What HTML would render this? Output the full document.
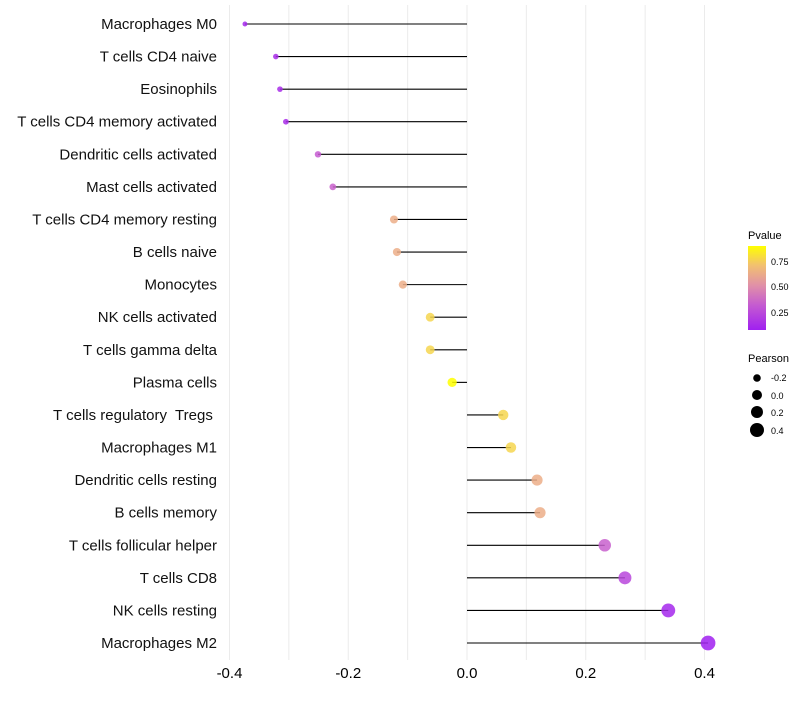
<!DOCTYPE html>
<html><head><meta charset="utf-8"><style>
body{margin:0;background:#fff;font-family:"Liberation Sans",sans-serif}
text{white-space:pre}
</style></head><body>
<svg id="c" width="800" height="700" xmlns="http://www.w3.org/2000/svg" font-family="Liberation Sans, sans-serif">
<defs><linearGradient id="pg" x1="0" y1="1" x2="0" y2="0">
<stop offset="0" stop-color="#A020F0"/><stop offset="0.3" stop-color="#C55CD0"/><stop offset="0.53" stop-color="#E090A8"/><stop offset="0.77" stop-color="#F2C070"/><stop offset="1" stop-color="#FFFF00"/></linearGradient></defs>
<g id="grid"></g>
<g id="marks"></g>
<g id="ylab"></g>
<g id="xlab"></g>
<g>
<text x="748" y="239" font-size="11">Pvalue</text>
<rect x="748" y="246" width="18" height="84" fill="url(#pg)"/>
<text x="771" y="265" font-size="9">0.75</text>
<text x="771" y="290" font-size="9">0.50</text>
<text x="771" y="316" font-size="9">0.25</text>
</g>
<g>
<text x="748" y="362" font-size="11">Pearson</text>
<circle cx="757" cy="378" r="3.8"/>
<text x="771" y="381" font-size="9">-0.2</text>
<circle cx="757" cy="395" r="5"/>
<text x="771" y="399" font-size="9">0.0</text>
<circle cx="757" cy="412" r="6"/>
<text x="771" y="416" font-size="9">0.2</text>
<circle cx="757" cy="430" r="7"/>
<text x="771" y="434" font-size="9">0.4</text>
</g>
</svg>
<script>
const categories=["Macrophages M0","T cells CD4 naive","Eosinophils","T cells CD4 memory activated","Dendritic cells activated","Mast cells activated","T cells CD4 memory resting","B cells naive","Monocytes","NK cells activated","T cells gamma delta","Plasma cells","T cells regulatory  Tregs ","Macrophages M1","Dendritic cells resting","B cells memory","T cells follicular helper","T cells CD8","NK cells resting","Macrophages M2"];
const pearson=[-0.374,-0.322,-0.315,-0.305,-0.251,-0.226,-0.123,-0.118,-0.108,-0.062,-0.062,-0.025,0.061,0.074,0.118,0.123,0.232,0.266,0.339,0.406];
const pvalue=[0.1,0.12,0.12,0.12,0.3,0.33,0.6,0.6,0.6,0.8,0.8,0.9,0.8,0.8,0.6,0.6,0.32,0.22,0.1,0.07];
const xTicks=[-0.4,-0.2,0.0,0.2,0.4];
const xTickLabels=["-0.4","-0.2","0.0","0.2","0.4"];
const NS="http://www.w3.org/2000/svg";
const xs=v=>467+v*593.75;
const ys=i=>24+i*(643-24)/19;
const rs=v=>4.8+v*6.3;
const stops=[[0.07,[160,32,240]],[0.32,[200,96,206]],[0.5,[224,140,170]],[0.6,[236,174,136]],[0.7,[240,190,118]],[0.8,[246,214,80]],[0.9,[255,255,0]]];
function col(p){if(p<=stops[0][0])return stops[0][1];for(let k=1;k<stops.length;k++){if(p<=stops[k][0]){const a=stops[k-1],b=stops[k],t=(p-a[0])/(b[0]-a[0]);return a[1].map((c,j)=>Math.round(c+(b[1][j]-c)*t));}}return stops[stops.length-1][1];}
function mk(tag,attrs,parent){const e=document.createElementNS(NS,tag);for(const k in attrs)e.setAttribute(k,attrs[k]);parent.appendChild(e);return e;}
const grid=document.getElementById('grid'),marks=document.getElementById('marks'),yl=document.getElementById('ylab'),xl=document.getElementById('xlab');
for(let k=-4;k<=4;k++){const g=k/10;const l=mk('line',{x1:xs(g),x2:xs(g),y1:5,y2:660,stroke:'#ebebeb','stroke-width':1},grid);

}
xTicks.forEach((t,i)=>{const e=mk('text',{x:xs(t),y:678,'font-size':15,'text-anchor':'middle',fill:'#000'},xl);e.textContent=xTickLabels[i];

});
categories.forEach((c,i)=>{const y=ys(i);
const t=mk('text',{x:217,y:y+5,'font-size':15,'text-anchor':'end',fill:'#111'},yl);t.textContent=c;


const l=mk('line',{x1:xs(0),x2:xs(pearson[i]),y1:y,y2:y,stroke:'#000','stroke-width':1.1},marks);


const cc=col(pvalue[i]);
const d=mk('circle',{cx:xs(pearson[i]),cy:y,r:rs(pearson[i]),fill:`rgb(${cc.join(',')})`,'fill-opacity':0.85},marks);

});
</script>
</body></html>
